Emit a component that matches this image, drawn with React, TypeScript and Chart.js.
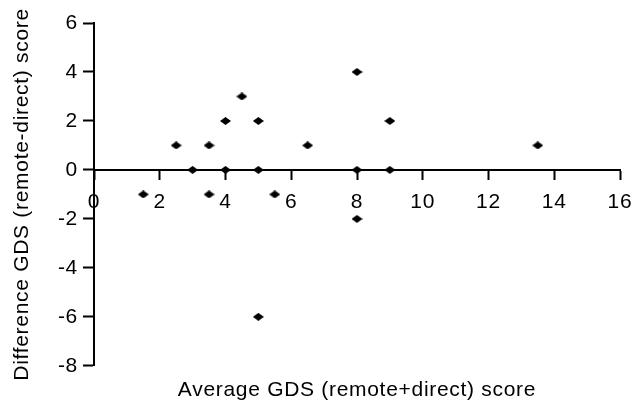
import React, { useEffect, useRef } from "react";
import { Chart, registerables } from "chart.js";

Chart.register(...registerables);

const xValues: number[] = [1.5, 2.5, 3, 3.5, 3.5, 4, 4, 4.5, 5, 5, 5, 5.5, 6.5, 8, 8, 8, 9, 9, 13.5];
const yValues: number[] = [-1, 1, 0, 1, -1, 2, 0, 3, 2, 0, -6, -1, 1, 4, 0, -2, 2, 0, 1];
const xTitle = "Average GDS (remote+direct) score";
const yTitle = "Difference GDS (remote-direct) score";
const xRange = { min: 0, max: 16, step: 2 };
const yRange = { min: -8, max: 6, step: 2 };

const FONT = "'Liberation Sans', Arial, sans-serif";
const FS = 21;
const LS = "0.7px";

const spacingPlugin = {
  id: "letterSpacingFix",
  beforeInit(chart: any) {
    (chart.ctx as any).letterSpacing = LS;
  },
  beforeLayout(chart: any) {
    (chart.ctx as any).letterSpacing = LS;
  },
  beforeDraw(chart: any) {
    (chart.ctx as any).letterSpacing = LS;
  },
};

export default function App() {
  const ref = useRef<HTMLCanvasElement | null>(null);

  useEffect(() => {
    document.body.style.margin = "0";
    if (!ref.current) return;

    const pc = document.createElement("canvas");
    pc.width = 11;
    pc.height = 8;
    const pctx = pc.getContext("2d")!;
    pctx.fillStyle = "#000";
    pctx.beginPath();
    pctx.moveTo(0, 4);
    pctx.lineTo(5.5, 0);
    pctx.lineTo(11, 4);
    pctx.lineTo(5.5, 8);
    pctx.closePath();
    pctx.fill();

    const data = xValues.map((x, i) => ({ x, y: yValues[i] }));

    const chart = new Chart(ref.current, {
      type: "scatter",
      data: {
        datasets: [
          {
            data,
            pointStyle: pc as any,
            pointRadius: 5,
            backgroundColor: "#000",
            borderColor: "#000",
          },
        ],
      },
      plugins: [spacingPlugin],
      options: {
        animation: false,
        responsive: false,
        maintainAspectRatio: false,
        layout: { padding: { top: 23, right: 0, bottom: 0, left: 0 } },
        plugins: {
          legend: { display: false },
          tooltip: { enabled: false },
          title: {
            display: true,
            position: "bottom",
            fullSize: false,
            text: xTitle,
            color: "#000",
            font: { family: FONT, size: FS, weight: "normal" },
            padding: { top: 12, bottom: 0 },
          },
        },
        scales: {
          x: {
            type: "linear",
            position: { y: 0 } as any,
            min: xRange.min,
            max: xRange.max,
            ticks: {
              stepSize: xRange.step,
              color: "#000",
              font: { family: FONT, size: FS },
              padding: 11,
              maxRotation: 0,
            },
            grid: {
              drawOnChartArea: false,
              drawTicks: true,
              tickLength: 9,
              tickColor: "#000",
              tickWidth: 2,
            },
            border: { display: true, color: "#000", width: 2 },
            afterFit: (scale: any) => {
              scale.paddingLeft = 0;
              scale.paddingRight = 20;
              scale.paddingTop = 0;
              scale.paddingBottom = 0;
            },
          },
          y: {
            type: "linear",
            position: "left",
            min: yRange.min,
            max: yRange.max,
            ticks: {
              stepSize: yRange.step,
              color: "#000",
              font: { family: FONT, size: FS },
              padding: 5,
            },
            grid: {
              drawOnChartArea: false,
              drawTicks: true,
              tickLength: 11,
              tickColor: "#000",
              tickWidth: 2,
            },
            border: { display: true, color: "#000", width: 2 },
            title: {
              display: true,
              text: yTitle,
              color: "#000",
              font: { family: FONT, size: FS },
              padding: { top: 10, bottom: 0 },
            },
            afterFit: (scale: any) => {
              scale.width = 94;
              scale.paddingTop = 0;
              scale.paddingBottom = 0;
            },
          },
        },
      },
    });

    return () => chart.destroy();
  }, []);

  return (
    <div style={{ width: 640, height: 403 }}>
      <canvas ref={ref} width={640} height={403} style={{ display: "block" }} />
    </div>
  );
}
